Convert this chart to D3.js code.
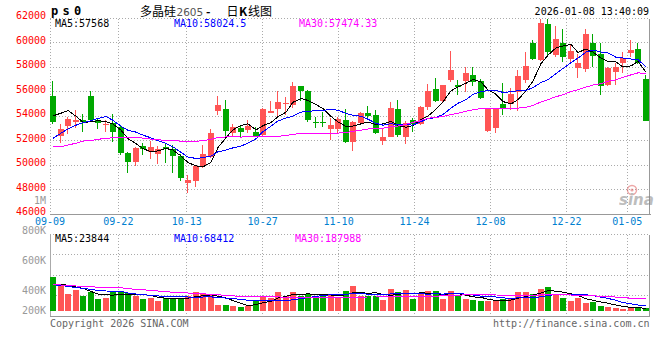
<!DOCTYPE html>
<html>
<head>
<meta charset="utf-8">
<script src="https://cdn.jsdelivr.net/npm/d3@7"></script>
<style>
  html, body { margin: 0; padding: 0; background: #fff; }
  svg { display: block; }
  text { font-family: "DejaVu Sans Mono", monospace; font-size: 10px; }
</style>
</head>
<body>
<svg id="chart" width="660" height="360"></svg>
<script>
// trading days shown (MM-DD)
const dates = [
  "09-09","09-10","09-11","09-12","09-15","09-16","09-17","09-18","09-19","09-22",
  "09-23","09-24","09-25","09-26","09-29","09-30","10-09","10-10","10-13","10-14",
  "10-15","10-16","10-17","10-20","10-21","10-22","10-23","10-24","10-27","10-28",
  "10-29","10-30","10-31","11-03","11-04","11-05","11-06","11-07","11-10","11-11",
  "11-12","11-13","11-14","11-17","11-18","11-19","11-20","11-21","11-24","11-25",
  "11-26","11-27","11-28","12-01","12-02","12-03","12-04","12-05","12-08","12-09",
  "12-10","12-11","12-12","12-15","12-16","12-17","12-18","12-19","12-22","12-23",
  "12-24","12-25","12-26","12-29","12-30","12-31","01-05","01-06","01-07","01-08"
];
const tickDates = ["09-09","09-22","10-13","10-27","11-10","11-24","12-08","12-22","01-05"];

const opens = [
  55650,52400,53219,53520,53684,55650,53684,53246,53465,53082,
  51006,50268,51580,51033,50897,51498,51307,50733,48547,48711,
  49913,50678,54448,54585,52645,53055,52864,52727,52454,54284,
  54585,54968,54913,56416,56060,53547,53547,52946,52946,53684,
  51908,53465,54284,54093,51990,52318,54558,52318,53684,53356,
  54695,56224,55186,56962,56552,56845,57334,56845,52792,52982,
  54941,55000,55974,56926,60000,58558,61496,58966,60000,58613,
  57933,57797,60000,59102,56518,57606,58286,59157,59456,57008
];
const highs = [
  56880,53356,53957,54503,54148,56006,53875,53684,54148,53192,
  51088,51498,51771,51990,51580,51771,51634,50870,49176,49995,
  51634,52946,55596,55323,53328,53274,53684,53137,54640,55186,
  56006,55514,56743,56470,56142,53957,54367,53820,53957,54558,
  53629,54367,54831,54503,53000,55104,55323,53601,53820,54831,
  56607,57098,56552,59284,56926,57960,58014,56981,54614,54614,
  56654,56246,57742,59184,60190,61958,61958,61360,61142,59918,
  59048,61142,60734,60000,58014,58286,59238,60190,60000,57334
];
const lows = [
  53356,51826,52536,53000,52727,53547,52946,52673,51908,50815,
  49367,49941,50815,50487,50050,50132,49367,48711,47728,48219,
  49777,50542,54093,52400,52263,52318,52591,52263,52372,54230,
  53957,54093,54640,55186,53492,53055,53137,52044,52536,51826,
  51170,53274,53684,52536,51634,52263,52318,51689,52727,53274,
  54503,55131,55104,56743,55740,55974,56437,55376,52710,52629,
  54070,54478,54424,56709,58558,58504,58966,58830,58422,58232,
  57062,57606,58014,55702,56437,56518,57470,58830,58232,53608
];
const closes = [
  53547,52946,53765,53684,53520,53684,53465,53356,52727,50951,
  50268,51416,51307,51443,51307,51307,50733,48902,48766,49941,
  50897,52591,54913,52809,53137,52727,53219,52400,54585,54421,
  55104,55050,56470,56060,53684,53410,53410,53274,53765,51908,
  53547,54284,54039,52645,52263,54640,52454,53410,53356,54722,
  56006,55241,56497,57781,56334,57525,56790,55485,54533,54533,
  54560,55784,57280,58069,58613,61632,59238,60245,58830,59293,
  58286,60734,58912,56437,57933,58014,58694,59374,58286,53608
];

const ma5 = [
  54010,54230,54450,53980,53492,53520,53624,53542,53350,52837,
  52153,51744,51334,51077,51148,51356,51219,50738,50203,49930,
  49848,50219,51422,52230,52869,53235,53361,52858,53214,53470,
  53946,54312,55126,55421,55274,54935,54607,53968,53509,53153,
  53181,53356,53509,53285,53356,53574,53208,53082,53225,53716,
  53990,54547,55164,56049,56372,56676,56985,56783,56133,55773,
  55180,54979,55338,56045,56861,58276,58966,59559,59712,59848,
  59178,59478,59211,58732,58460,58406,57998,58090,58460,57568
];
const ma10 = [
  52180,52600,52950,53250,53450,53620,53800,53950,53650,53165,
  52837,52684,52438,52214,51992,51755,51482,51036,50640,50539,
  50602,50719,51080,51217,51400,51542,51790,52140,52722,53170,
  53591,53837,53992,54317,54372,54440,54459,54547,54465,54214,
  54058,53981,53738,53397,53255,53378,53282,53296,53255,53536,
  53782,53878,54123,54637,55044,55333,55766,55974,56091,56073,
  55928,55982,56061,56089,56317,56728,56973,57449,57878,58354,
  58727,59222,59385,59222,59154,58792,58738,58651,58596,58024.5
];
const ma30 = [
  51500,51500,51630,51780,51950,52000,52100,52170,52230,52240,
  52240,52240,52200,52110,52060,52000,51990,51950,51910,51940,
  51990,52100,52250,52290,52320,52280,52330,52360,52300,52291,
  52343,52413,52503,52583,52588,52579,52577,52574,52609,52641,
  52750,52846,52937,52977,53009,53120,53177,53327,53480,53640,
  53810,53898,53951,54117,54224,54383,54503,54605,54604,54607,
  54589,54614,54641,54708,54872,55146,55340,55573,55741,55988,
  56146,56361,56523,56649,56838,56951,57159,57358,57522,57474.33
];

const volumes = [
  343000,253000,173000,213000,153000,187000,120000,133000,200000,187000,
  177000,153000,120000,133000,100000,127000,127000,127000,153000,187000,
  173000,167000, 63000, 63000, 53000, 40000, 53000,113000,153000,133000,
  193000,147000,193000,153000,173000,140000,160000,173000,133000,200000,
  253000,153000,153000,153000,110000,220000,193000,210000,120000,167000,
  200000,200000,120000,200000,153000,120000,110000,100000,100000,100000,
  120000,127000,190000,190000,173000,220000,240000,173000,133000,100000,
  127000, 80000, 93000, 50000, 40000, 30000, 23000, 30000, 30000, 30000
];
const volMa5 = [
  270,270,255,240,227,196,169,161,159,165,163,170,167,154,137,127,121,123,127,144,
  153,161,149,131,104,77,54,64,82,98,129,148,164,164,172,161,164,160,156,161,
  184,182,178,182,164,158,166,177,171,182,178,179,161,177,175,159,141,137,117,106,
  106,109,127,145,160,180,203,199,188,173,155,123,107,90,78,59,47,35,31,29
].map(v => v * 1000);
const volMa10 = [
  263,255,245,235,227,215,205,200,198,196,180,170,164,156,151,145,146,145,140,140,
  140,141,136,129,124,115,108,107,107,101,103,101,114,123,135,145,156,162,160,167,
  173,173,169,169,163,171,174,178,177,173,168,173,169,174,178,168,160,149,147,140,
  132,125,132,131,133,143,156,163,167,167,167,163,153,139,126,107,85,71,60,53
].map(v => v * 1000);
const volMa30 = [
  263,260,252,250,248,243,238,237,236,233,222,218,212,206,200,192,188,184,180,176,
  172,167,162,156,151,147,143,140,143,146,141,137,138,136,137,135,136,138,136,136,
  139,139,140,140,141,144,146,149,148,147,148,149,151,155,159,161,163,163,161,160,
  158,157,157,158,158,161,163,163,163,160,156,153,151,148,146,139,134,128,125,120
].map(v => v * 1000);

const priceTicks = [62000,60000,58000,56000,54000,52000,50000,48000,46000];
const volTicks = [1000000,800000,600000,400000,200000];
const volTickText = ["1M","800K","600K","400K","200K"];
const maText = ["MA5:57568","MA10:58024.5","MA30:57474.33"];
const volMaText = ["MA5:23844","MA10:68412","MA30:187988"];

const UP = "#ff5555", DOWN = "#00a800";
const maColors = ["#000000", "#0000ff", "#ff00ff"];

const svg = d3.select("#chart");
const px = v => Math.floor(v) + 0.5;

const left = 50, right = 650;
const x = d3.scaleBand().domain(d3.range(dates.length)).range([left, right])
  .paddingInner(0.2).paddingOuter(0.1).align(0);
const xg = d3.scaleLinear().domain([0, dates.length - 1]).range([left, right]);
const y = d3.scaleLinear().domain([46000, 62000]).range([214, 18]);
const yv = d3.scaleLinear().domain([0, 750000]).range([311, 236]);
const yvLabel = d3.scaleLinear().domain([400000, 1000000]).range([294, 204]);
const volTop = 234, volBottom = 316;

const gridX = tickDates.slice(1).map(d => px(xg(dates.indexOf(d))));

// ---- main panel grid
const g1 = svg.append("g").attr("shape-rendering", "crispEdges");
g1.selectAll("line.h").data(priceTicks.filter(v => v > 46000)).join("line")
  .attr("x1", left).attr("x2", right)
  .attr("y1", d => px(y(d))).attr("y2", d => px(y(d)))
  .attr("stroke", "#aaa").attr("stroke-dasharray", "1,2");
g1.selectAll("line.v").data(gridX).join("line")
  .attr("x1", d => d).attr("x2", d => d)
  .attr("y1", px(y(62000))).attr("y2", px(y(46000)))
  .attr("stroke", "#aaa").attr("stroke-dasharray", "1,2");
g1.append("line").attr("x1", px(left)).attr("x2", px(left))
  .attr("y1", px(y(62000))).attr("y2", px(y(46000)))
  .attr("stroke", "#aaa").attr("stroke-dasharray", "1,2");
g1.append("line").attr("x1", left).attr("x2", right + 1)
  .attr("y1", px(y(46000))).attr("y2", px(y(46000))).attr("stroke", "#999");
g1.append("line").attr("x1", px(right - 1)).attr("x2", px(right - 1))
  .attr("y1", px(y(62000))).attr("y2", px(y(46000))).attr("stroke", "#999");

// ---- volume panel grid
const g2 = svg.append("g").attr("shape-rendering", "crispEdges");
const volGridY = d3.scaleLinear().domain([0, 4]).range([volBottom, volTop]);
g2.selectAll("line.h").data([1, 2, 3, 4]).join("line")
  .attr("x1", left).attr("x2", right)
  .attr("y1", d => px(volGridY(d))).attr("y2", d => px(volGridY(d)))
  .attr("stroke", "#aaa").attr("stroke-dasharray", "1,2");
g2.selectAll("line.v").data(gridX).join("line")
  .attr("x1", d => d).attr("x2", d => d)
  .attr("y1", px(volTop)).attr("y2", px(volBottom))
  .attr("stroke", "#aaa").attr("stroke-dasharray", "1,2");
g2.append("line").attr("x1", px(left)).attr("x2", px(left))
  .attr("y1", px(volTop)).attr("y2", px(volBottom)).attr("stroke", "#aaa");
g2.append("line").attr("x1", px(right - 1)).attr("x2", px(right - 1))
  .attr("y1", px(volTop)).attr("y2", px(volBottom)).attr("stroke", "#999");
g2.append("line").attr("x1", left).attr("x2", right)
  .attr("y1", px(volBottom)).attr("y2", px(volBottom)).attr("stroke", "#999");

// ---- watermark
const wm = svg.append("g").attr("opacity", 0.55);
wm.append("circle").attr("cx", 632).attr("cy", 190).attr("r", 4.5)
  .attr("fill", "none").attr("stroke", "#e06060").attr("stroke-width", 1.5);
wm.append("circle").attr("cx", 632).attr("cy", 190).attr("r", 1.6).attr("fill", "#e06060");
wm.append("text").attr("x", 619).attr("y", 205)
  .style("font-family", "DejaVu Sans").style("font-size", "15px")
  .style("font-style", "italic").style("font-weight", "bold")
  .attr("fill", "#888").text("sina");

// ---- candles
const candles = svg.append("g").attr("shape-rendering", "crispEdges");
const idx = d3.range(dates.length);
const colorOf = i => closes[i] >= opens[i] ? UP : DOWN;
candles.selectAll("rect.wick").data(idx).join("rect")
  .attr("x", i => Math.round(x(i)) + 2)
  .attr("width", 1)
  .attr("y", i => Math.round(y(highs[i])))
  .attr("height", i => Math.max(1, Math.round(y(lows[i])) - Math.round(y(highs[i]))))
  .attr("fill", colorOf);
candles.selectAll("rect.body").data(idx).join("rect")
  .attr("x", i => Math.round(x(i)))
  .attr("width", x.bandwidth())
  .attr("y", i => Math.round(y(Math.max(opens[i], closes[i]))))
  .attr("height", i => Math.max(1, Math.round(y(Math.min(opens[i], closes[i]))) - Math.round(y(Math.max(opens[i], closes[i])))))
  .attr("fill", colorOf);

// ---- main MA lines
const cx = i => Math.round(x(i)) + 3;
[ma5, ma10, ma30].forEach((arr, k) => {
  svg.append("path").datum(idx)
    .attr("fill", "none").attr("stroke", maColors[k]).attr("stroke-width", 1)
    .attr("shape-rendering", "crispEdges")
    .attr("d", d3.line().x(cx).y(i => y(arr[i])));
});

// ---- volume bars
svg.append("g").attr("shape-rendering", "crispEdges")
  .selectAll("rect").data(idx).join("rect")
  .attr("x", i => Math.round(x(i)))
  .attr("width", x.bandwidth())
  .attr("y", i => Math.round(yv(volumes[i])))
  .attr("height", i => Math.round(yv(0)) - Math.round(yv(volumes[i])))
  .attr("fill", colorOf);

[volMa5, volMa10, volMa30].forEach((arr, k) => {
  svg.append("path").datum(idx)
    .attr("fill", "none").attr("stroke", maColors[k]).attr("stroke-width", 1)
    .attr("shape-rendering", "crispEdges")
    .attr("d", d3.line().x(cx).y(i => yv(arr[i])));
});

// ---- axis labels
svg.append("g").selectAll("text").data(priceTicks).join("text")
  .attr("x", 46).attr("y", d => y(d) + 1)
  .attr("text-anchor", "end").attr("fill", "#ff0000").text(d => d);

svg.append("g").selectAll("text").data(volTicks).join("text")
  .attr("x", 46).attr("y", d => Math.min(yvLabel(d), 314))
  .attr("text-anchor", "end").attr("fill", "#999").text((d, i) => volTickText[i]);

svg.append("g").selectAll("text").data(tickDates).join("text")
  .attr("x", d => xg(dates.indexOf(d))).attr("y", 224.5)
  .attr("text-anchor", "middle").attr("fill", "#0080d0").text(d => d);

// ---- MA legends
const maX = [55, 174, 299], volMaX = [55, 174, 295];
svg.append("g").selectAll("text").data(maText).join("text")
  .attr("x", (d, i) => maX[i]).attr("y", 27)
  .attr("fill", (d, i) => maColors[i]).text(d => d);
svg.append("g").selectAll("text").data(volMaText).join("text")
  .attr("x", (d, i) => volMaX[i]).attr("y", 242)
  .attr("fill", (d, i) => maColors[i]).text(d => d);

// ---- header
svg.append("text").attr("x", 51).attr("y", 15)
  .style("font-size", "12px").style("font-weight", "bold").style("letter-spacing", "4.3px")
  .attr("fill", "#000").text("ps0");

const title = svg.append("text").attr("y", 16).attr("fill", "#000")
  .style("font-family", "'Noto Sans CJK SC', sans-serif").style("font-size", "12px");
title.append("tspan").attr("x", 140).text("多晶硅");
title.append("tspan").attr("x", 176.5).attr("fill", "#555")
  .style("font-family", "'DejaVu Sans', sans-serif").style("font-size", "10.5px").text("2605");
title.append("tspan").attr("x", 206).style("font-weight", "bold").text("-");
title.append("tspan").attr("x", 226.5).text("日");
title.append("tspan").attr("x", 239).style("font-weight", "bold").text("K");
title.append("tspan").attr("x", 248).text("线图");

svg.append("text").attr("x", 649).attr("y", 15).attr("text-anchor", "end")
  .attr("fill", "#000").text("2026-01-08 13:40:09");

// ---- footer
svg.append("text").attr("x", 50).attr("y", 326.5).attr("fill", "#666")
  .text("Copyright 2026 SINA.COM");
svg.append("text").attr("x", 649.5).attr("y", 326.5).attr("text-anchor", "end")
  .attr("fill", "#666").text("http://finance.sina.com.cn");
</script>
</body>
</html>
